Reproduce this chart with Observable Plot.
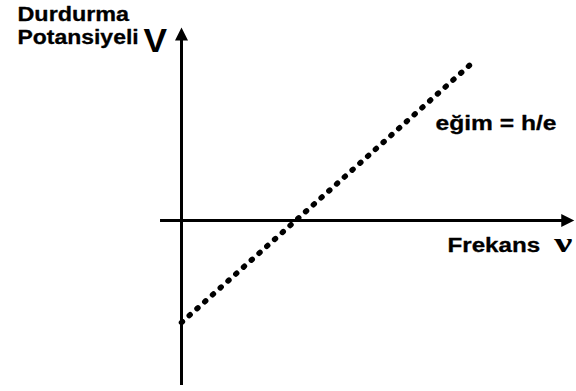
<!DOCTYPE html>
<html>
<head>
<meta charset="utf-8">
<script src="https://cdn.jsdelivr.net/npm/d3@7"></script>
<script src="https://cdn.jsdelivr.net/npm/@observablehq/plot@0.6"></script>
<style>
  html, body { margin: 0; padding: 0; background: #fff; }
  #chart svg { display: block; }
</style>
</head>
<body>
<div id="chart"></div>
<script>
// Stopping potential vs frequency (schematic)
const frequency = [0, 2.535];          // in units of threshold frequency
const stoppingPotential = [-1, 1.53];  // in units of W/e

// axis extents (data units)
const xAxisExtent = [-0.184, 3.35];
const yAxisExtent = [-1.618, 1.765];
const xArrowTip = [3.445, 0];
const yArrowTip = [0, 1.892];

// labels
const labelText = ["Durdurma", "Potansiyeli", "V", "eğim = h/e", "Frekans", "ν"];
const labelX =    [-1.4386, -1.4386, -0.333, 2.228, 2.333, 3.27];
const labelY =    [1.951, 1.730, 1.652, 0.892, -0.3137, -0.3137];

const lineData = frequency.map((f, i) => ({f, v: stoppingPotential[i]}));
const labels = labelText.map((t, i) => ({t, x: labelX[i], y: labelY[i]}));

const arrowHead = {
  draw(ctx) {
    ctx.moveTo(0, 0);
    ctx.lineTo(-6.5, 13);
    ctx.lineTo(6.5, 13);
    ctx.closePath();
  }
};

const plainLabels = labels.filter(d => d.t !== "V" && d.t !== "ν");

const chart = Plot.plot({
  width: 576,
  height: 391,
  margin: 0,
  x: {domain: [0, 1], range: [181, 295], axis: null},
  y: {domain: [0, 1], range: [220, 118], axis: null},
  marks: [
    Plot.ruleY([0], {x1: xAxisExtent[0], x2: xAxisExtent[1], stroke: "#000", strokeWidth: 3}),
    Plot.ruleX([0], {y1: yAxisExtent[0], y2: yAxisExtent[1], stroke: "#000", strokeWidth: 3}),
    Plot.dot([{x: yArrowTip[0], y: yArrowTip[1]}], {x: "x", y: "y", symbol: arrowHead, fill: "#000", stroke: "none", r: 5}),
    Plot.dot([{x: xArrowTip[0], y: xArrowTip[1]}], {x: "x", y: "y", symbol: arrowHead, fill: "#000", stroke: "none", r: 5, rotate: 90}),
    Plot.line(lineData, {x: "f", y: "v", stroke: "#000", strokeWidth: 5.5, strokeDasharray: "1.2,9.2", strokeLinecap: "round"}),
    Plot.text(plainLabels, {x: "x", y: "y", text: "t", textAnchor: "start", lineAnchor: "bottom",
      fontFamily: "Liberation Sans, Arial, sans-serif", fontWeight: "bold", fontSize: 20.5, fill: "#000",
      stroke: "#000", strokeWidth: 0.3}),
    Plot.text(labels.filter(d => d.t === "V"), {x: "x", y: "y", text: "t", textAnchor: "start", lineAnchor: "bottom",
      fontFamily: "Liberation Sans, Arial, sans-serif", fontWeight: "bold", fontSize: 33, fill: "#000"}),
    Plot.text(labels.filter(d => d.t === "ν"), {x: "x", y: "y", text: "t", textAnchor: "start", lineAnchor: "bottom",
      fontFamily: "Liberation Serif, Times New Roman, serif", fontWeight: "bold", fontSize: 27, fill: "#000"})
  ]
});

// horizontal stretch of the label glyphs (style)
const stretch = {"Durdurma": 1.14, "Potansiyeli": 1.12, "V": 1.07, "eğim = h/e": 1.2, "Frekans": 1.18, "ν": 1.5};
d3.select(chart).selectAll("text").each(function() {
  const s = stretch[this.textContent];
  if (!s) return;
  const el = d3.select(this);
  let tr = el.attr("transform");
  if (!tr) {
    const x = +el.attr("x") || 0, y = +el.attr("y") || 0;
    tr = `translate(${x},${y})`;
    el.attr("x", null).attr("y", null);
  }
  el.attr("transform", `${tr} scale(${s},1)`);
});

document.getElementById("chart").appendChild(chart);
</script>
</body>
</html>
